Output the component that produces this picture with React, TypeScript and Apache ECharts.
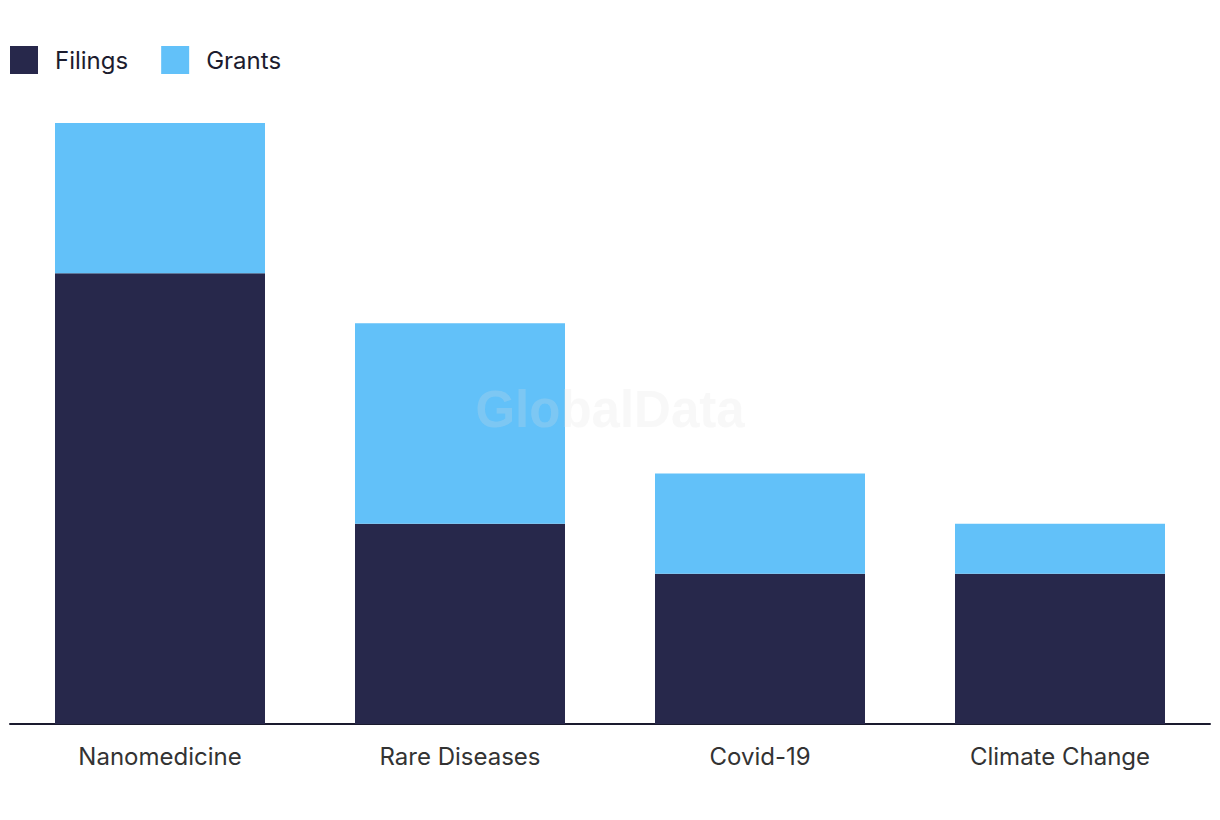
import React, { useEffect, useRef } from "react";
import * as echarts from "echarts";

const categories = ["Nanomedicine", "Rare Diseases", "Covid-19", "Climate Change"];
const filings = [9, 4, 3, 3];
const grants = [3, 4, 2, 1];

export default function App() {
  const ref = useRef<HTMLDivElement>(null);
  useEffect(() => {
    document.body.style.margin = "0";
    const chart = echarts.init(ref.current!, null, { renderer: "svg" });
    chart.setOption({
      animation: false,
      backgroundColor: "#ffffff",
      legend: {
        left: 5,
        top: 41,
        itemWidth: 28,
        itemHeight: 28,
        itemGap: 33,
        icon: "rect",
        textStyle: { fontFamily: "Inter", fontSize: 24, color: "#1c1c2e", padding: [0, 0, 0, 12] },
        data: ["Filings", "Grants"],
      },
      grid: { left: 10, right: 10, top: 123, bottom: 96, containLabel: false },
      xAxis: {
        type: "category",
        data: categories,
        axisLine: { show: true, lineStyle: { color: "#1a1a2e", width: 2 } },
        axisTick: { show: false },
        axisLabel: { fontFamily: "Inter", fontSize: 24, color: "#333333", margin: 20 },
      },
      yAxis: {
        type: "value",
        min: 0,
        max: 12,
        show: false,
        splitLine: { show: false },
      },
      series: [
        {
          name: "Filings",
          type: "bar",
          stack: "total",
          data: filings,
          barWidth: "70%",
          itemStyle: { color: "#27284b" },
        },
        {
          name: "Grants",
          type: "bar",
          stack: "total",
          data: grants,
          barWidth: "70%",
          itemStyle: { color: "#62c1f9" },
        },
      ],
      graphic: [
        {
          type: "text",
          left: "center",
          top: 384,
          z: 100,
          style: {
            text: "GlobalData",
            fontFamily: "Liberation Sans",
            fontWeight: "bold",
            fontSize: 51,
            fill: "rgba(225,225,225,0.22)",
          },
        },
      ],
    });
    return () => chart.dispose();
  }, []);
  return <div ref={ref} style={{ width: 1220, height: 820 }} />;
}
